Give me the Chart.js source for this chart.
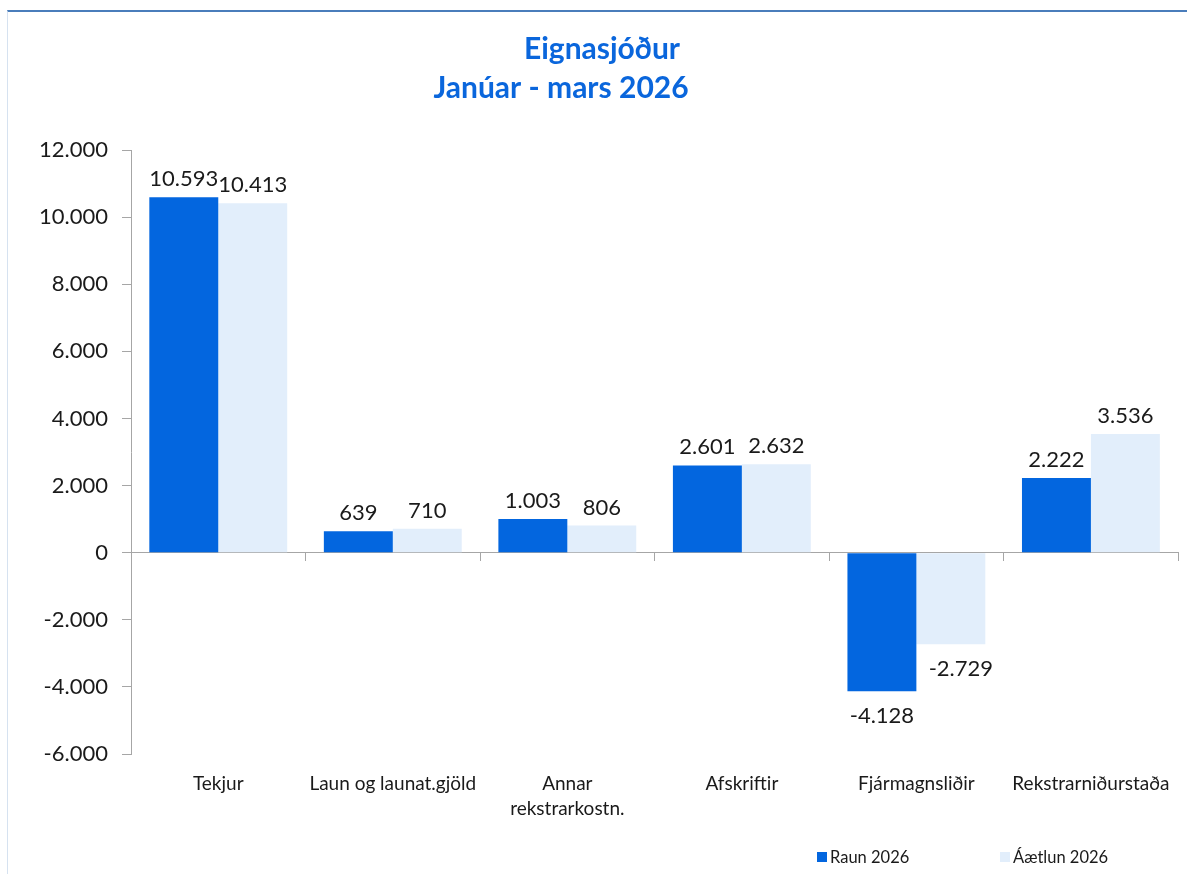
<!DOCTYPE html>
<html>
<head>
<meta charset="utf-8">
<script src="https://cdn.jsdelivr.net/npm/chart.js@4/dist/chart.umd.min.js"></script>
<style>
  html, body { margin: 0; padding: 0; background: #fff; }
  #wrap { position: relative; width: 1187px; height: 874px; overflow: hidden; }
  #frame { position: absolute; left: 7px; top: 10px; width: 1200px; height: 900px;
           border-top: 2px solid #4a7dbb; border-left: 1px solid #d6e2f0; box-sizing: border-box; }
  canvas { position: absolute; left: 0; top: 0; }
</style>
</head>
<body>
<div id="wrap">
  <div id="frame"></div>
  <canvas id="myChart" width="1187" height="874"></canvas>
</div>
<script>
// chart values
const categories = ["Tekjur", "Laun og launat.gjöld", ["Annar", "rekstrarkostn."], "Afskriftir", "Fjármagnsliðir", "Rekstrarniðurstaða"];
const raun2026 = [10593, 639, 1003, 2601, -4128, 2222];
const aaetlun2026 = [10413, 710, 806, 2632, -2729, 3536];
const seriesNames = ["Raun 2026", "Áætlun 2026"];
const titleLines = ["Eignasjóður", "Janúar - mars 2026"];

const FONT = "Lato, 'Open Sans', sans-serif";
const TEXT = "#1a1a1a";
const AXIS = "#a6a6a6";

// 10593 -> "10.593"
function fmt(v) {
  let s = String(Math.abs(Math.round(v)));
  s = s.replace(/\B(?=(\d{3})+(?!\d))/g, ".");
  return (v < 0 ? "-" : "") + s;
}

const titlePlugin = {
  id: 'titleLines',
  afterDraw(chart) {
    const ctx = chart.ctx;
    ctx.save();
    ctx.fillStyle = "#0a66dc";
    ctx.font = "bold 30px " + FONT;
    ctx.textAlign = "center";
    ctx.textBaseline = "middle";
    ctx.fillText(titleLines[0], 602, 49);
    ctx.fillText(titleLines[1], 561, 88);
    ctx.restore();
  }
};

const valueLabels = {
  id: 'valueLabels',
  afterDatasetsDraw(chart) {
    const ctx = chart.ctx;
    ctx.save();
    ctx.font = "22px " + FONT;
    ctx.fillStyle = TEXT;
    ctx.textAlign = "center";
    chart.data.datasets.forEach((ds, di) => {
      chart.getDatasetMeta(di).data.forEach((bar, i) => {
        const v = ds.data[i];
        if (v >= 0) {
          ctx.textBaseline = "bottom";
          ctx.fillText(fmt(v), bar.x, bar.y - 7);
        } else {
          ctx.textBaseline = "top";
          ctx.fillText(fmt(v), bar.x + (di == 1 ? 10 : 0), bar.y + 14);
        }
      });
    });
    ctx.restore();
  }
};

// legend drawn at the bottom right
const legendPlugin = {
  id: 'bottomLegend',
  afterDraw(chart) {
    const ctx = chart.ctx;
    ctx.save();
    ctx.font = "16.5px " + FONT;
    ctx.textBaseline = "middle";
    ctx.textAlign = "left";
    const starts = [817, 1000];
    const y = 857;
    chart.data.datasets.forEach((ds, i) => {
      ctx.fillStyle = ds.backgroundColor;
      ctx.fillRect(starts[i], y - 5, 10, 10);
      ctx.fillStyle = TEXT;
      ctx.fillText(ds.label, starts[i] + 13, y + 1);
    });
    ctx.restore();
  }
};

new Chart(document.getElementById("myChart"), {
  type: 'bar',
  data: {
    labels: categories,
    datasets: [
      { label: seriesNames[0], data: raun2026, backgroundColor: "#0366df", categoryPercentage: 0.79, barPercentage: 1 },
      { label: seriesNames[1], data: aaetlun2026, backgroundColor: "#e2eefb", categoryPercentage: 0.79, barPercentage: 1 }
    ]
  },
  options: {
    responsive: false,
    animation: false,
    layout: { padding: { top: 150, left: 0, right: 6, bottom: 40 } },
    plugins: {
      legend: { display: false },
      title: { display: false },
      tooltip: { enabled: false }
    },
    scales: {
      x: {
        position: { y: 0 },
        offset: true,
        ticks: { display: false },
        grid: { display: true, drawOnChartArea: false, drawTicks: true, tickLength: 8, offset: true, color: AXIS },
        border: { display: true, color: AXIS }
      },
      x2: {
        type: 'category',
        position: 'bottom',
        offset: true,
        grid: { display: false, drawTicks: false },
        border: { display: false },
        ticks: {
          autoSkip: false, maxRotation: 0, minRotation: 0, padding: 17,
          color: TEXT, font: { family: FONT, size: 19, lineHeight: 1.32 }
        },
        afterFit(scale) { scale.height = 80; }
      },
      y: {
        min: -6000,
        max: 12000,
        ticks: {
          stepSize: 2000, padding: 14, color: TEXT,
          font: { family: FONT, size: 22 },
          callback: (v) => fmt(v)
        },
        grid: { drawOnChartArea: false, drawTicks: true, tickLength: 9, color: AXIS },
        border: { display: true, color: AXIS },
        afterFit(scale) { scale.width = 131; }
      }
    }
  },
  plugins: [titlePlugin, valueLabels, legendPlugin]
});
</script>
</body>
</html>
